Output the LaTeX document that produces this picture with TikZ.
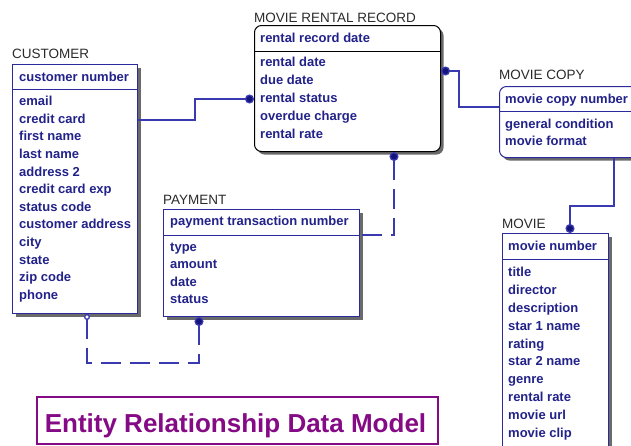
\documentclass[tikz,border=0pt]{standalone}
\usepackage{fontspec}
\setmainfont{Liberation Sans}
\usepackage{xcolor}
\usepackage{tikz}
\usetikzlibrary{arrows.meta,shadows}
\definecolor{ErdNavy}{HTML}{2A2A9C}
\definecolor{ErdText}{HTML}{22228A}
\definecolor{ErdLine}{HTML}{3A3AB0}
\definecolor{ErdDot}{HTML}{14147A}
\definecolor{ErdShadow}{HTML}{6A6A6A}
\definecolor{ErdPurple}{HTML}{850A85}
\definecolor{ErdTitle}{HTML}{2A2A2A}

\begin{document}
\begin{tikzpicture}[x=1pt,y=-1pt,
  entity/.style={draw=ErdNavy,line width=1pt,fill=white,anchor=north west,inner sep=0,
    drop shadow={shadow xshift=3pt,shadow yshift=-3pt,fill=ErdShadow,opacity=1}},
  etitle/.style={anchor=base west,inner sep=0,text=ErdTitle,font=\fontsize{13.5}{16}\selectfont},
  attr/.style={anchor=base west,inner sep=0,text=ErdText,font=\fontsize{13}{15}\selectfont\bfseries},
  rel/.style={draw=ErdLine,line width=1.3pt},
  reldash/.style={rel,dash pattern=on 20pt off 9pt}]
\path[use as bounding box] (0,0) rectangle (631,445);
\clip (0,0) rectangle (631,445);

% entity boxes
\node[entity,minimum width=125,minimum height=249] (cust) at (12,64) {};
\node[entity,draw=black,rounded corners=7pt,minimum width=186,minimum height=126] (mrr) at (254,25) {};
\node[entity,rounded corners=7pt,minimum width=150,minimum height=71] (mc) at (499,86) {};
\node[entity,minimum width=196,minimum height=107] (pay) at (163,209) {};
\node[entity,minimum width=106,minimum height=240] (movie) at (502,233) {};

% key separators
\draw[ErdNavy,line width=1pt] ([yshift=-25pt]cust.north west) -- ([yshift=-25pt]cust.north east);
\draw[black,line width=1pt] ([yshift=-26pt]mrr.north west) -- ([yshift=-26pt]mrr.north east);
\draw[ErdNavy,line width=1pt] ([yshift=-25pt]mc.north west) -- ([yshift=-25pt]mc.north east);
\draw[ErdNavy,line width=1pt] ([yshift=-26pt]pay.north west) -- ([yshift=-26pt]pay.north east);
\draw[ErdNavy,line width=1pt] ([yshift=-26pt]movie.north west) -- ([yshift=-26pt]movie.north east);

% entity names
\node[etitle] (custName) at (12,58) {CUSTOMER};
\node[etitle] (mrrName) at (254,22) {MOVIE RENTAL RECORD};
\node[etitle] (mcName) at (499,79) {MOVIE COPY};
\node[etitle] (payName) at (163,204) {PAYMENT};
\node[etitle] (movieName) at (502,228) {MOVIE};

% keys
\node[attr] (custKey) at (19,81) {customer number};
\node[attr] (mrrKey) at (260,42) {rental record date};
\node[attr] (mcKey) at (505,103) {movie copy number};
\node[attr] (payKey) at (170,225) {payment transaction number};
\node[attr] (movieKey) at (508,250) {movie number};

% attributes
\foreach \t [count=\i] in {email,credit card,first name,last name,address 2,credit card exp,
    status code,customer address,city,state,zip code,phone}
  \node[attr] (cust-\i) at (19,{88+17.6*\i}) {\t};
\foreach \t [count=\i] in {rental date,due date,rental status,overdue charge,rental rate}
  \node[attr] (mrr-\i) at (260,{48.5+18*\i}) {\t};
\foreach \t [count=\i] in {general condition,movie format}
  \node[attr] (mc-\i) at (505,{110.5+17.5*\i}) {\t};
\foreach \t [count=\i] in {type,amount,date,status}
  \node[attr] (pay-\i) at (170,{233.5+17.6*\i}) {\t};
\foreach \t [count=\i] in {title,director,description,star 1 name,rating,star 2 name,
    genre,rental rate,movie url,movie clip}
  \node[attr] (movie-\i) at (508,{259+17.8*\i}) {\t};

% relationships
\draw[rel,-{Circle[length=9pt,fill=ErdDot]}] ([yshift=-56pt]cust.north east) -- ++(57,0) |- ([yshift=-74pt]mrr.north west);
\draw[rel,{Circle[length=9pt,fill=ErdDot]}-] ([yshift=-46pt]mrr.north east) -- ++(18,0) |- ([yshift=-21pt]mc.north west);
\draw[rel,-{Circle[length=9pt,fill=ErdDot]}] ([xshift=115pt]mc.south west) -- ++(0,48) -| ([xshift=68pt]movie.north west);
\draw[reldash,{Circle[length=9pt,fill=ErdDot]}-] ([xshift=140pt]mrr.south west) |- ([yshift=-26pt]pay.north east);
\draw[reldash,{Circle[open,length=6pt,fill=white]}-{Circle[length=9pt,fill=ErdDot]}] ([xshift=75pt]cust.south west)
  -- ++(0,49) -| ([xshift=36pt]pay.south west);

% caption
\node[draw=ErdPurple,line width=1.2pt,minimum width=401,minimum height=47] (capBox) at (237.5,420.5) {};
\node[anchor=base,inner sep=0,text=ErdPurple,font=\fontsize{26}{30}\selectfont\bfseries] (capText) at (235.5,432)
  {Entity Relationship Data Model};
\end{tikzpicture}
\end{document}
